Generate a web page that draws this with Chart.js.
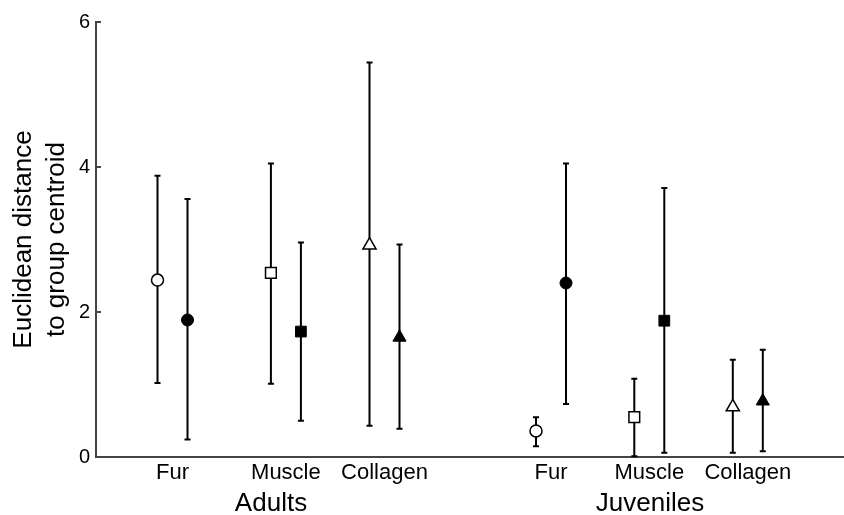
<!DOCTYPE html>
<html>
<head>
<meta charset="utf-8">
<script src="https://cdn.jsdelivr.net/npm/chart.js@4/dist/chart.umd.min.js"></script>
<style>
  html, body { margin: 0; padding: 0; background: #fff; }
  #wrap { width: 844px; height: 515px; }
</style>
</head>
<body>
<div id="wrap"><canvas id="c" width="844" height="515"></canvas></div>
<script>
// ---- data ----
const categories = ['Fur', 'Muscle', 'Collagen', 'Fur', 'Muscle', 'Collagen'];
const tissues = ['fur', 'muscle', 'collagen', 'fur', 'muscle', 'collagen'];
const categoryPos = [0.765, 1.899, 2.885, 4.55, 5.533, 6.518];
const groups = ['Adults', 'Juveniles'];
const groupPos = [1.75, 5.54];
const yTicks = [0, 2, 4, 6];

const openMean = [2.44, 2.54, 2.92, 0.36, 0.55, 0.69];
const openLow  = [1.02, 1.01, 0.43, 0.15, 0.01, 0.06];
const openHigh = [3.88, 4.05, 5.44, 0.55, 1.08, 1.34];

const filledMean = [1.89, 1.73, 1.65, 2.40, 1.88, 0.77];
const filledLow  = [0.24, 0.50, 0.39, 0.73, 0.06, 0.08];
const filledHigh = [3.56, 2.96, 2.93, 4.05, 3.71, 1.48];

// ---- styling helpers ----
const PAIR_OFFSET = 0.15;
const styleOf = { fur: 'circle', muscle: 'rect', collagen: 'triangle' };
const radiusOf = { fur: 6, muscle: 7.6, collagen: 7.6 };
const FONT = '"Liberation Sans", Arial, Helvetica, sans-serif';

function buildPoints(mean, low, high, sign) {
  return categoryPos.map((p, i) => ({ x: p + sign * PAIR_OFFSET, y: mean[i], low: low[i], high: high[i] }));
}

const errorBars = {
  id: 'errorBars',
  beforeDatasetsDraw(chart) {
    const ctx = chart.ctx;
    const xs = chart.scales.x, ys = chart.scales.y;
    ctx.save();
    ctx.strokeStyle = '#000';
    ctx.lineWidth = 2;
    chart.data.datasets.forEach(ds => {
      ds.data.forEach(pt => {
        const px = xs.getPixelForValue(pt.x);
        const lo = ys.getPixelForValue(pt.low);
        const hi = ys.getPixelForValue(pt.high);
        ctx.beginPath();
        ctx.moveTo(px, lo); ctx.lineTo(px, hi);
        ctx.moveTo(px - 3, lo); ctx.lineTo(px + 3, lo);
        ctx.moveTo(px - 3, hi); ctx.lineTo(px + 3, hi);
        ctx.stroke();
      });
    });
    ctx.restore();
  }
};

const inwardTicks = {
  id: 'inwardTicks',
  afterDraw(chart) {
    const ctx = chart.ctx;
    const ys = chart.scales.y;
    const left = chart.chartArea.left;
    ctx.save();
    ctx.strokeStyle = '#444';
    ctx.lineWidth = 2;
    yTicks.forEach(v => {
      if (v === 0) return;
      const py = ys.getPixelForValue(v);
      ctx.beginPath();
      ctx.moveTo(left, py);
      ctx.lineTo(left + 5, py);
      ctx.stroke();
    });
    ctx.restore();
  }
};

new Chart(document.getElementById('c'), {
  type: 'scatter',
  data: {
    datasets: [
      {
        label: 'open',
        data: buildPoints(openMean, openLow, openHigh, -1),
        pointStyle: tissues.map(t => styleOf[t]),
        pointRadius: tissues.map(t => radiusOf[t]),
        backgroundColor: '#fff',
        borderColor: '#000',
        pointBorderWidth: 1.5,
        clip: false
      },
      {
        label: 'filled',
        data: buildPoints(filledMean, filledLow, filledHigh, 1),
        pointStyle: tissues.map(t => styleOf[t]),
        pointRadius: tissues.map(t => radiusOf[t]),
        backgroundColor: '#000',
        borderColor: '#000',
        pointBorderWidth: 1,
        clip: false
      }
    ]
  },
  options: {
    responsive: false,
    animation: false,
    layout: { autoPadding: false, padding: { top: 22, left: 0, right: 0, bottom: 0 } },
    plugins: { legend: { display: false }, tooltip: { enabled: false } },
    scales: {
      x: {
        type: 'linear',
        position: 'bottom',
        weight: 0,
        min: 0,
        max: 7.48,
        grid: { display: false, drawTicks: false },
        border: { display: true, color: '#444', width: 2 },
        afterBuildTicks(scale) { scale.ticks = categoryPos.map(v => ({ value: v })); },
        afterFit(scale) { scale.height = 29; },
        ticks: {
          autoSkip: false,
          maxRotation: 0,
          padding: 3,
          color: '#000',
          font: { family: FONT, size: 22 },
          callback: (value, index) => categories[index]
        }
      },
      x2: {
        type: 'linear',
        position: 'bottom',
        weight: 1,
        min: 0,
        max: 7.48,
        grid: { display: false, drawTicks: false },
        border: { display: false },
        afterBuildTicks(scale) { scale.ticks = groupPos.map(v => ({ value: v })); },
        afterFit(scale) { scale.height = 29; },
        ticks: {
          autoSkip: false,
          maxRotation: 0,
          padding: 2,
          color: '#000',
          font: { family: FONT, size: 26 },
          callback: (value, index) => groups[index]
        }
      },
      y: {
        type: 'linear',
        min: 0,
        max: 6,
        grid: { display: false, drawTicks: false },
        border: { display: true, color: '#444', width: 2 },
        afterBuildTicks(scale) { scale.ticks = yTicks.map(v => ({ value: v })); },
        afterFit(scale) { scale.width = 96; },
        ticks: {
          padding: 6,
          color: '#000',
          font: { family: FONT, size: 20 }
        },
        title: {
          display: true,
          text: ['Euclidean distance', 'to group centroid'],
          color: '#000',
          font: { family: FONT, size: 26, lineHeight: 1.25 },
          padding: { top: 8, bottom: 0 }
        }
      }
    }
  },
  plugins: [errorBars, inwardTicks]
});
</script>
</body>
</html>
